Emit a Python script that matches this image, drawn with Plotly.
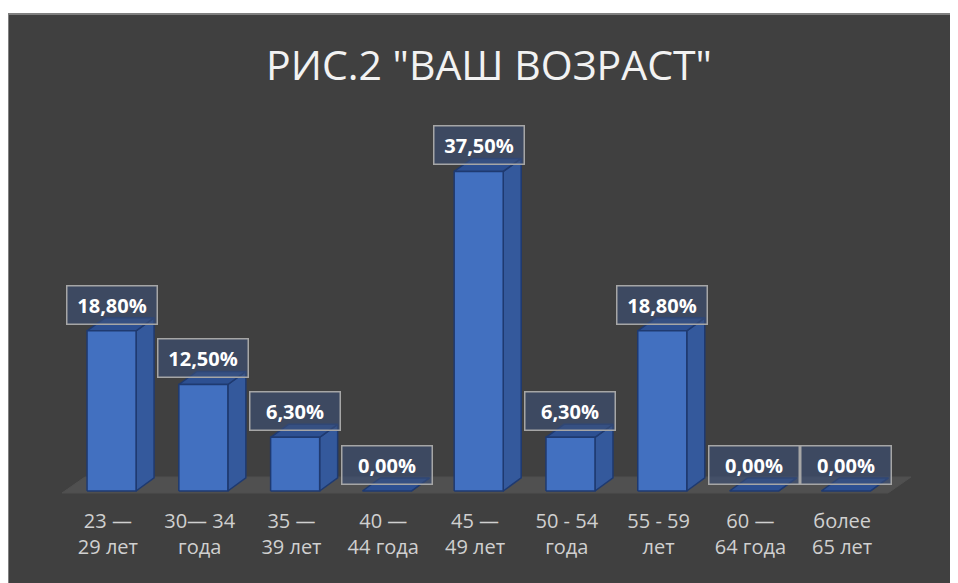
import plotly.graph_objects as go

categories = ["23 —<br>29 лет", "30— 34<br>года", "35 —<br>39 лет", "40 —<br>44 года",
              "45 —<br>49 лет", "50 - 54<br>года", "55 - 59<br>лет", "60 —<br>64 года",
              "более<br>65 лет"]
values = [18.8, 12.5, 6.3, 0.0, 37.5, 6.3, 18.8, 0.0, 0.0]
labels = [f"{v:.2f}".replace(".", ",") + "%" for v in values]

# the page adds an 8px body margin, so the figure is 8px smaller and laid out 8px up/left
W, H = 950, 575
ML, MR, MT, MB = 54, 28, 142, 88
YMIN, YMAX = -0.47, 40.02
XMIN, XMAX = -0.5, 8.957

# fake 3D look
BAR_W = 0.534
BAR_SHIFT = 0.04
DX, DY = 0.196, 1.53
FLOOR_DX, FLOOR_FRONT, FLOOR_BACK = 0.25, -0.23, 1.64

FRONT = "#4270c0"
SIDE = "#34599c"
TOP = "#2d5092"
EDGE = "#1f3a70"

def px_x(p):
    return (p - ML) / (W - ML - MR)

def px_y(q):
    return (H - MB - q) / (H - MT - MB)

def poly_trace(xs, ys, fill, line, width=1.5):
    return go.Scatter(x=xs, y=ys, mode="lines", fill="toself", fillcolor=fill,
                      line=dict(color=line, width=width), hoverinfo="skip",
                      showlegend=False)

fig = go.Figure()

n = len(values)
fx = [XMIN, XMIN + n, XMIN + n + FLOOR_DX, XMIN + FLOOR_DX, XMIN]
fy = [FLOOR_FRONT, FLOOR_FRONT, FLOOR_BACK, FLOOR_BACK, FLOOR_FRONT]
fig.add_trace(poly_trace(fx, fy, "#505050", "#505050", 1))

sx, sy, tx, ty, qx, qy = [], [], [], [], [], []
for i, v in enumerate(values):
    l = i + BAR_SHIFT - BAR_W / 2
    r = i + BAR_SHIFT + BAR_W / 2
    sx += [r, r + DX, r + DX, r, r, None]
    sy += [0, DY, v + DY, v, 0, None]
    tx += [l, r, r + DX, l + DX, l, None]
    ty += [v, v, v + DY, v + DY, v, None]
    if v > 0:
        qx += [l, r, r, l, l, None]
        qy += [0, 0, v, v, 0, None]

fig.add_trace(poly_trace(sx, sy, SIDE, EDGE))
fig.add_trace(poly_trace(tx, ty, TOP, EDGE))
fig.add_trace(poly_trace(qx, qy, FRONT, EDGE))

for i, (v, t) in enumerate(zip(values, labels)):
    fig.add_annotation(x=i + BAR_SHIFT, y=v, yshift=26, text=t, showarrow=False,
                       xanchor="center", yanchor="middle",
                       font=dict(family="Open Sans", size=20, color="white", weight="bold"),
                       bgcolor="rgba(60,80,120,0.6)", bordercolor="#a6a6a6",
                       borderwidth=1.5, borderpad=5, width=79, height=27)

# chart area background with border on top/left
fig.add_shape(type="rect", xref="paper", yref="paper", layer="below",
              x0=px_x(0), x1=px_x(W + 20), y0=px_y(H + 20), y1=px_y(6),
              fillcolor="#404040", line=dict(color="#808080", width=2))

fig.update_layout(
    width=W, height=H,
    margin=dict(l=ML, r=MR, t=MT, b=MB),
    paper_bgcolor="white", plot_bgcolor="rgba(0,0,0,0)",
    title=dict(text='РИС.2 "ВАШ ВОЗРАСТ"', x=481 / W, xanchor="center",
               y=1 - 58 / H, yanchor="middle", xref="container", yref="container",
               font=dict(family="Open Sans", size=41, color="#f2f2f2")),
    xaxis=dict(range=[XMIN, XMAX], tickvals=list(range(n)), ticktext=categories,
               showgrid=False, zeroline=False, showline=False, ticks="",
               tickfont=dict(family="Open Sans", size=20, color="#d0d0d0"),
               ticklabelstandoff=12, fixedrange=True),
    yaxis=dict(range=[YMIN, YMAX], visible=False, fixedrange=True),
    showlegend=False,
)

# the bottom body margin would otherwise add a scrollbar
fig.write_html("out.html", post_script=(
    "document.documentElement.style.overflow = 'hidden';"
    "document.body.style.overflow = 'hidden';"))
